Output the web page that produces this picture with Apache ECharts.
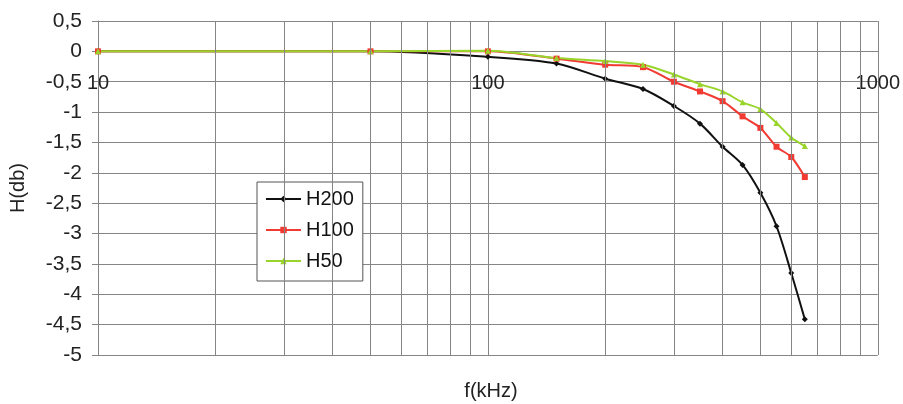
<!DOCTYPE html>
<html>
<head>
<meta charset="utf-8">
<script src="https://cdn.jsdelivr.net/npm/echarts@6/dist/echarts.min.js"></script>
<style>
html,body{margin:0;padding:0;background:#fff;}
#c{width:903px;height:404px;}
</style>
</head>
<body>
<div id="c"></div>
<script>
const freq = [10, 50, 100, 150, 200, 250, 300, 350, 400, 450, 500, 550, 600, 650];
const h200 = [0, 0, -0.09, -0.2, -0.45, -0.62, -0.9, -1.19, -1.57, -1.87, -2.33, -2.88, -3.65, -4.41];
const h100 = [0, 0, 0, -0.12, -0.22, -0.26, -0.5, -0.66, -0.82, -1.07, -1.26, -1.57, -1.74, -2.07];
const h50 = [0, 0, 0.01, -0.11, -0.16, -0.22, -0.38, -0.54, -0.66, -0.84, -0.95, -1.18, -1.42, -1.56];
const seriesNames = ['H200', 'H100', 'H50'];
const minorGrid = [20, 30, 40, 50, 60, 70, 80, 90, 200, 300, 400, 500, 600, 700, 800, 900];

const FONT = 'Liberation Sans, Arial, sans-serif';
const GRID = '#858585';
const pair = (vals) => freq.map((f, i) => [f, vals[i]]);

const gridTop = 21, gridBottom = 49, H = 404;
const plotH = H - gridTop - gridBottom;
const yMin = -5, yMax = 0.5;
const zeroFromBottom = plotH * (0 - yMin) / (yMax - yMin);

const chart = echarts.init(document.getElementById('c'), null, {renderer: 'canvas'});
const mk = (name, data, color, symbol, size) => ({
  name, type: 'line', data: pair(data), smooth: 0.3,
  symbol, symbolSize: size, showSymbol: true,
  lineStyle: {color, width: 2}, itemStyle: {color, borderWidth: 0},
  emphasis: {disabled: true}, animation: false
});

chart.setOption({
  animation: false,
  backgroundColor: '#fff',
  textStyle: {fontFamily: FONT},
  title: {
    text: 'f(kHz)', left: 486, top: 376, textAlign: 'center',
    textStyle: {fontFamily: FONT, fontSize: 20, fontWeight: 'normal', color: '#222'}
  },
  grid: {left: 95, right: 24, top: gridTop, bottom: gridBottom, containLabel: false},
  legend: {
    orient: 'vertical', left: 257, top: 182,
    padding: [7, 9, 10, 8], itemGap: 11, itemWidth: 35, itemHeight: 8,
    backgroundColor: '#fff', borderColor: '#555', borderWidth: 1,
    textStyle: {fontFamily: FONT, fontSize: 20, color: '#111', lineHeight: 20},
    data: seriesNames
  },
  xAxis: {
    type: 'log', logBase: 10, min: 10, max: 1000,
    position: 'bottom', offset: -zeroFromBottom,
    axisLine: {onZero: false, lineStyle: {color: GRID, width: 1}},
    axisTick: {show: false},
    axisLabel: {fontFamily: FONT, fontSize: 20, color: '#222', margin: 22,
      showMinLabel: true, showMaxLabel: true, formatter: v => String(Math.round(v))},
    splitLine: {show: true, lineStyle: {color: GRID, width: 1}}
  },
  yAxis: {
    type: 'value', min: yMin, max: yMax, interval: 0.5,
    name: 'H(db)', nameLocation: 'middle', nameGap: 70, nameRotate: 90,
    nameTextStyle: {fontFamily: FONT, fontSize: 20, color: '#222'},
    axisLine: {show: true, onZero: false, lineStyle: {color: GRID, width: 1}},
    axisTick: {show: true, length: 6, lineStyle: {color: GRID}},
    axisLabel: {fontFamily: FONT, fontSize: 21, color: '#222', margin: 16,
      formatter: v => String(Math.round(v * 10) / 10).replace('.', ',')},
    splitLine: {show: true, lineStyle: {color: GRID, width: 1}}
  },
  series: [
    {
      name: '_grid', type: 'line', data: [], silent: true,
      markLine: {
        silent: true, symbol: ['none', 'none'], animation: false,
        label: {show: false},
        lineStyle: {color: GRID, width: 1, type: 'solid'},
        emphasis: {disabled: true},
        data: minorGrid.map(v => ({xAxis: v}))
      }
    },
    mk('H200', h200, '#111111', 'diamond', 6),
    mk('H100', h100, '#f03a32', 'rect', 6),
    mk('H50', h50, '#99d42a', 'triangle', 6)
  ]
});
</script>
</body>
</html>
